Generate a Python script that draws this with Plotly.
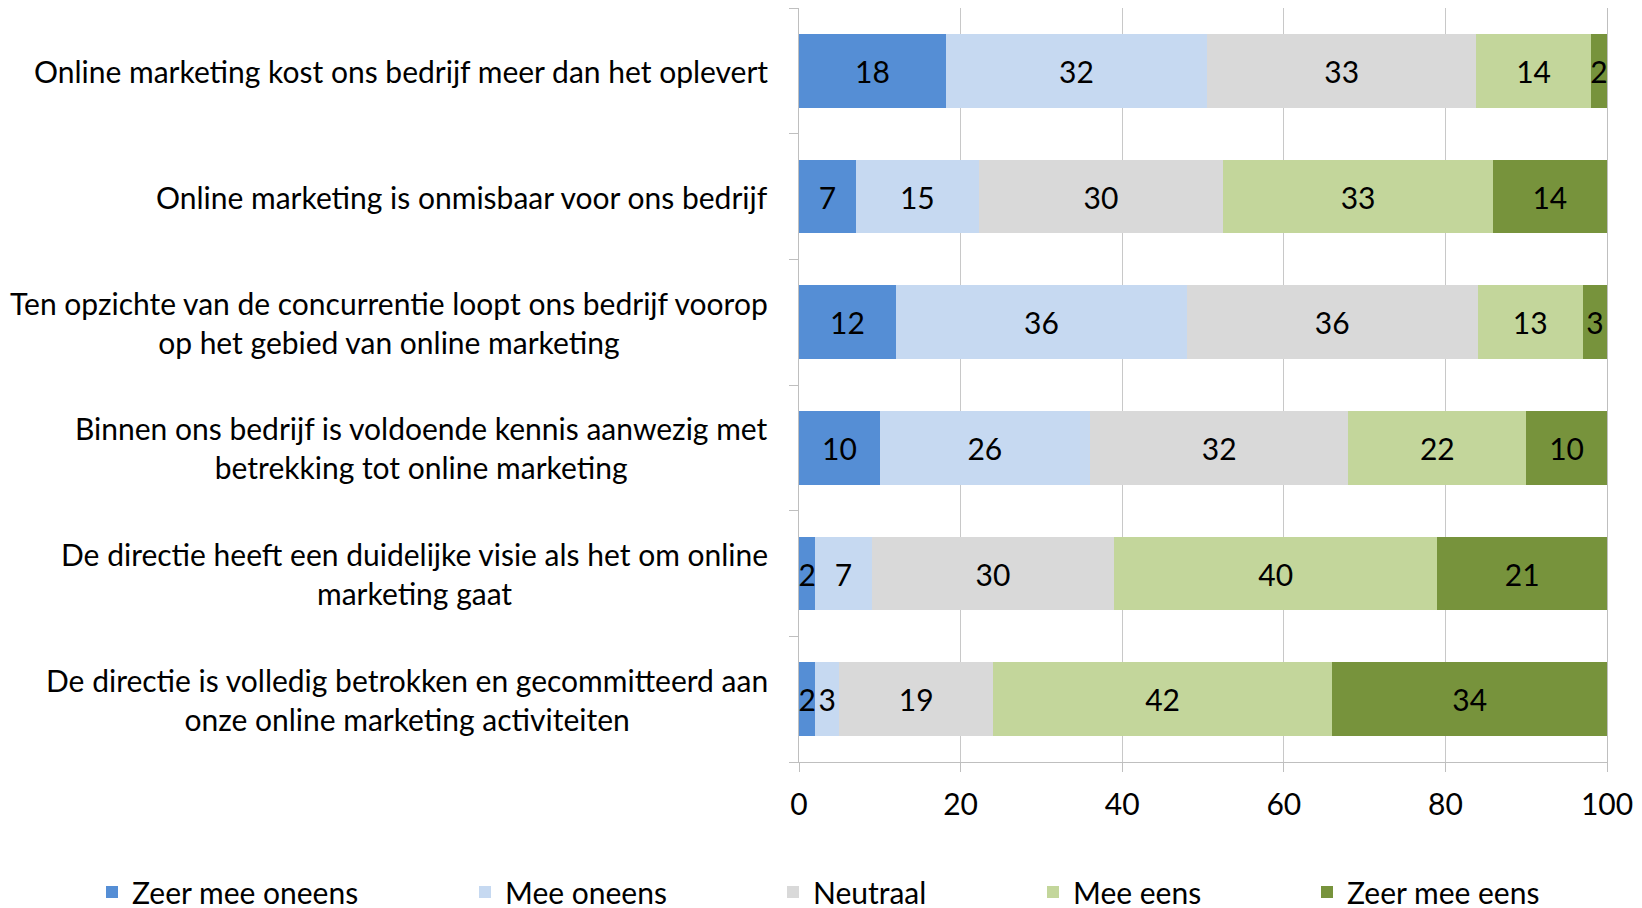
import plotly.graph_objects as go

categories = [
    "Online marketing kost ons bedrijf meer dan het oplevert",
    "Online marketing is onmisbaar voor ons bedrijf",
    "Ten opzichte van de concurrentie loopt ons bedrijf voorop<br>op het gebied van online marketing",
    "Binnen ons bedrijf is voldoende kennis aanwezig met<br>betrekking tot online marketing",
    "De directie heeft een duidelijke visie als het om online<br>marketing gaat",
    "De directie is volledig betrokken en gecommitteerd aan<br>onze online marketing activiteiten",
]
series_names = ["Zeer mee oneens", "Mee oneens", "Neutraal", "Mee eens", "Zeer mee eens"]
zeer_mee_oneens = [18, 7, 12, 10, 2, 2]
mee_oneens = [32, 15, 36, 26, 7, 3]
neutraal = [33, 30, 36, 32, 30, 19]
mee_eens = [14, 33, 13, 22, 40, 42]
zeer_mee_eens = [2, 14, 3, 10, 21, 34]
x_ticks = [0, 20, 40, 60, 80, 100]

series_values = [zeer_mee_oneens, mee_oneens, neutraal, mee_eens, zeer_mee_eens]
colors = ["#558ed5", "#c6d9f1", "#d9d9d9", "#c3d69b", "#77933c"]

FONT = "Lato"
FS = 30
OFF = 8  # page body margin offset
W, H = 1642, 908
L = 799 - OFF
T = 8 - OFF
pw = 808
ph = 754
R = W - L - pw
B = H - T - ph

fig = go.Figure()
legend_text_x = [132, 505, 813, 1073, 1347]
for i, (name, vals, col) in enumerate(zip(series_names, series_values, colors)):
    lg = "legend" if i == 0 else f"legend{i+1}"
    fig.add_trace(go.Bar(
        y=list(range(len(categories))), x=vals, name=name, orientation="h",
        marker=dict(color=col, line=dict(width=0)),
        text=[str(v) for v in vals], textposition="inside",
        insidetextanchor="middle", textangle=0,
        textfont=dict(family=FONT, size=FS, color="black"),
        legend=lg, hoverinfo="skip",
    ))

legends = {}
for i, tx in enumerate(legend_text_x):
    key = "legend" if i == 0 else f"legend{i+1}"
    legends[key] = dict(
        x=(tx - OFF - 40 - L) / pw, xanchor="left",
        y=-(892 - 762) / ph, yanchor="middle",
        orientation="h", bgcolor="rgba(0,0,0,0)",
        font=dict(family=FONT, size=FS, color="black"),
    )

annotations = []
for i, c in enumerate(categories):
    annotations.append(dict(
        x=(770 - 799) / pw, xref="paper", xanchor="right",
        y=i, yref="y", yanchor="middle",
        text=c, align="center", showarrow=False,
        font=dict(family=FONT, size=FS, color="black"),
    ))

fig.update_layout(
    width=W, height=H,
    margin=dict(l=L, r=R, t=T, b=B, autoexpand=False),
    barmode="stack", barnorm="percent", bargap=0.413,
    plot_bgcolor="white", paper_bgcolor="white",
    showlegend=True,
    uniformtext=dict(minsize=FS, mode="show"),
    annotations=annotations,
    **legends,
)
fig.update_xaxes(
    range=[0, 100], tickvals=x_ticks, ticktext=[str(v) for v in x_ticks],
    showgrid=True, gridcolor="#c8c8c8", gridwidth=1,
    showline=True, linecolor="#bfbfbf", linewidth=1, mirror=True,
    ticks="outside", ticklen=9, tickcolor="#bfbfbf",
    tickfont=dict(family=FONT, size=FS, color="black"),
    ticklabelstandoff=7, zeroline=False, fixedrange=True,
)
fig.update_yaxes(
    type="linear", range=[len(categories) - 0.5, -0.5],
    tickvals=[i - 0.5 for i in range(len(categories) + 1)],
    showticklabels=False, showgrid=False,
    showline=True, linecolor="#bfbfbf", linewidth=1, mirror=True,
    ticks="outside", ticklen=9, tickcolor="#bfbfbf", zeroline=False,
)

fig.write_html("out.html")
